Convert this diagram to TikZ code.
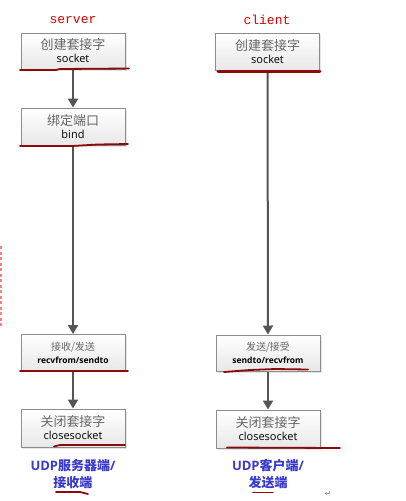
\documentclass[tikz,border=0pt]{standalone}
\usepackage{fontspec}
\setmainfont{Open Sans}
\newfontfamily\cjk{Noto Sans CJK SC}
\newfontfamily\monof{Liberation Mono}
\newfontfamily\symf{DejaVu Sans}
\usetikzlibrary{arrows.meta,shadows}
\definecolor{ulred}{HTML}{8B0A0A}
\definecolor{boxline}{HTML}{8C8C8C}
\definecolor{arrgray}{HTML}{555555}
\definecolor{lblblue}{HTML}{3A3ACC}
\tikzset{
  stepbox/.style={rectangle, draw=boxline, line width=1pt, top color=white, bottom color=gray!18,
    minimum width=104pt, inner sep=0pt, align=center,
    drop shadow={shadow xshift=1.5pt, shadow yshift=-1.5pt, fill=gray!40}},
  flow/.style={draw=arrgray, line width=2pt, -{Triangle[width=10pt,length=9pt]}},
  uline/.style={draw=ulred, line width=1.8pt, line cap=round},
  titlelbl/.style={text=red!85!black, font=\monof\fontsize{13}{14}\selectfont},
  sidelbl/.style={text=lblblue, align=center, font=\bfseries\fontsize{13}{17}\selectfont}
}
\newcommand{\cn}[1]{{\cjk\color{gray!80!black}#1}}
\begin{document}
\begin{tikzpicture}[x=1pt,y=-1pt]
\useasboundingbox (0,0) rectangle (405,501);
\fill[white] (0,0) rectangle (405,501);
% titles
\node[titlelbl] (srv) at (73,20) {server};
\node[titlelbl] (cli) at (267,20) {client};
% server boxes
\node[stepbox, minimum height=36pt] (s1) at (73,51) {\cn{\fontsize{13}{16}\selectfont 创建套接字}\\[1pt]{\fontsize{11}{12}\selectfont socket}};
\node[stepbox, minimum height=37pt] (s2) at (73,126.5) {\cn{\fontsize{13}{16}\selectfont 绑定端口}\\[1pt]{\fontsize{11}{12}\selectfont bind}};
\node[stepbox, minimum height=36pt] (s3) at (73,352.5) {\cn{\fontsize{10}{13}\selectfont 接收/发送}\\[1pt]{\bfseries\fontsize{8.5}{11}\selectfont recvfrom/sendto}};
\node[stepbox, minimum height=38pt] (s4) at (73,428) {\cn{\fontsize{13}{16}\selectfont 关闭套接字}\\[1pt]{\fontsize{11}{12}\selectfont closesocket}};
% client boxes
\node[stepbox, minimum height=37pt] (c1) at (267.5,51.5) {\cn{\fontsize{13}{16}\selectfont 创建套接字}\\[1pt]{\fontsize{11}{12}\selectfont socket}};
\node[stepbox, minimum height=36pt] (c3) at (268,353) {\cn{\fontsize{10}{13}\selectfont 发送/接受}\\[1pt]{\bfseries\fontsize{8.5}{11}\selectfont sendto/recvfrom}};
\node[stepbox, minimum height=38pt] (c4) at (268,429) {\cn{\fontsize{13}{16}\selectfont 关闭套接字}\\[1pt]{\fontsize{11}{12}\selectfont closesocket}};
% arrows
\draw[flow] (s1) -- (s2);
\draw[flow] (s2) -- (s3);
\draw[flow] (s3) -- (s4);
\draw[flow] (c1) -- (c3);
\draw[flow] (c3) -- (c4);
% red underlines
\draw[uline] (20,70) -- (56,70) -- (60,69) -- (129,68.5);
\draw[uline] (20,146) -- (72,146) -- (98,144.5) -- (128,144);
\draw[uline, line width=3pt] (218,71.5) -- (320,71.5);
\draw[uline] (20,371) -- (128,371);
\draw[uline] (224,372) -- (250,370) -- (275,369) -- (308,369.5);
\draw[uline] (54,446.5) -- (60,445) -- (125,445);
\draw[uline] (227,447.5) -- (340,448);
\draw[uline] (56,492) -- (80,492) -- (88,494);
\draw[uline] (253,492.5) -- (273,492.5);
% left dashed mark
\draw[red!50, line width=2pt, dash pattern=on 3pt off 2.5pt] (1,246) -- (1,326);
% bottom labels
\node[sidelbl] (sl) at (73,474) {UDP{\cjk 服务器端}/\\{\cjk 接收端}};
\node[sidelbl] (cl) at (268,474) {UDP{\cjk 客户端}/\\{\cjk 发送端}};
\node[text=gray, font=\symf\fontsize{8}{9}\selectfont] (ret) at (328,494) {↵};
\end{tikzpicture}
\end{document}
